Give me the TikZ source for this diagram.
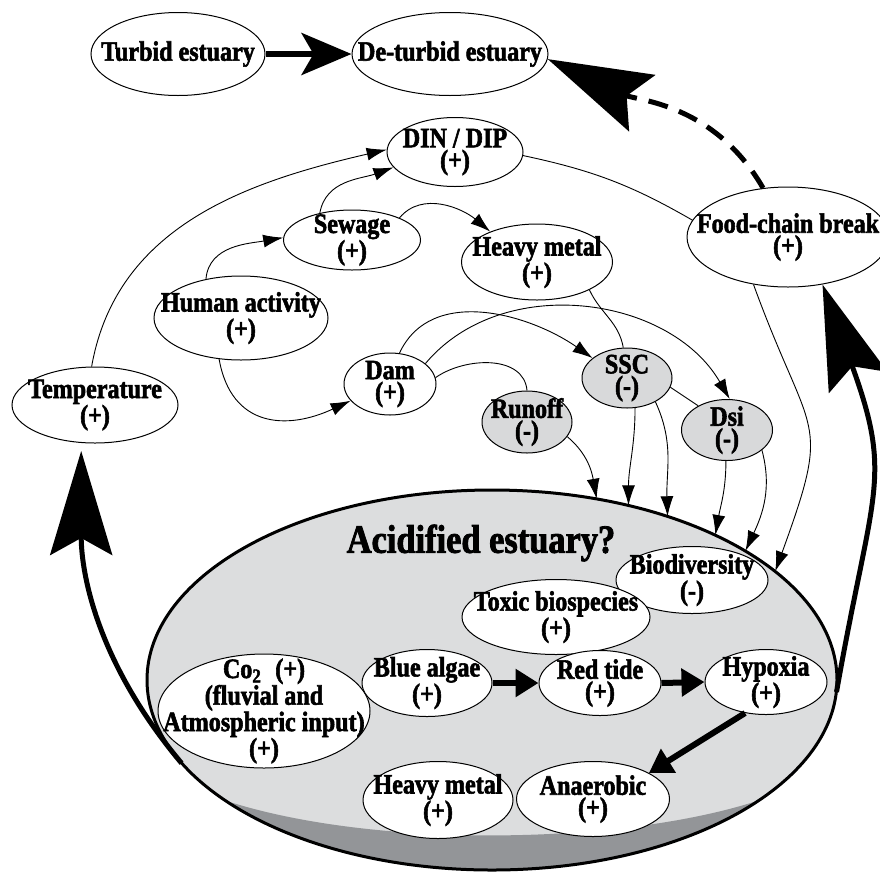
\documentclass[tikz,border=0pt]{standalone}
\usepackage{fontspec}
\setmainfont{Liberation Serif}[FakeStretch=0.86, BoldFeatures={FakeBold=2}]
\usetikzlibrary{arrows.meta,shapes.geometric}

\definecolor{estgray}{HTML}{DCDDDE}
\definecolor{boxgray}{HTML}{D8D9DA}
\definecolor{mudgray}{HTML}{939598}

\newcommand{\nodefont}{\fontsize{28}{22}\selectfont\bfseries}

\tikzset{
  lbl/.style={align=center, font=\nodefont, inner sep=0pt},
  box/.style={ellipse, draw, fill=white, line width=1pt, inner sep=0pt, label={[lbl]center:#1}},
  greybox/.style={box=#1, fill=boxgray},
  link/.style={line width=0.9pt, -{Latex[length=20pt,width=13pt]}},
  tie/.style={line width=0.9pt},
  flow/.style={line width=6pt, -{Triangle[length=23pt,width=27pt]}},
  jump/.style={line width=6pt, -{Stealth[length=50pt,width=42pt,inset=12pt]}},
  feedback/.style={line width=5pt, -{Stealth[length=104pt,width=62pt,inset=17pt]}},
}

\begin{document}
\begin{tikzpicture}[x=1pt,y=1pt]
    \useasboundingbox (0,0) rectangle (880,-873);

    % the estuary itself
    \node[ellipse, fill=estgray, inner sep=0pt, minimum width=690pt, minimum height=380pt] (est) at (492,-680) {};
    \begin{scope}
        \clip (est.center) ellipse [x radius=345pt, y radius=190pt];
        \fill[mudgray] (100,-780) -- (233,-803) .. controls (380,-848) and (620,-845) .. (757,-801)
            -- (900,-760) -- (900,-900) -- (100,-900) -- cycle;
    \end{scope}
    \draw[line width=3pt] (est.center) ellipse [x radius=345pt, y radius=190pt];
    \node[font=\fontsize{40}{40}\selectfont\bfseries] (title) at (481,-543) {Acidified estuary?};

    % top row
    \node[box={Turbid estuary}, minimum width=174pt, minimum height=83pt] (turbid) at (178,-54) {};
    \node[box={De-turbid estuary}, minimum width=196pt, minimum height=83pt] (deturbid) at (450,-54) {};

    % drivers
    \node[box={DIN / DIP\\(+)}, minimum width=136pt, minimum height=69pt] (dindip) at (455,-152) {};
    \node[box={Sewage\\(+)}, minimum width=137pt, minimum height=60pt] (sewage) at (352,-240) {};
    \node[box={Heavy metal\\(+)}, minimum width=151pt, minimum height=76pt] (hmtop) at (537,-262) {};
    \node[box={Food-chain break\\(+)}, minimum width=202pt, minimum height=100pt] (food) at (788,-237) {};
    \node[box={Human activity\\(+)}, minimum width=174pt, minimum height=84pt] (human) at (241,-318) {};
    \node[box={Temperature\\(+)}, minimum width=166pt, minimum height=76pt] (temp) at (95,-405) {};
    \node[box={Dam\\(+)}, minimum width=92pt, minimum height=62pt] (dam) at (390,-384) {};
    \node[greybox={SSC\\(-)}, minimum width=90pt, minimum height=60pt] (ssc) at (627,-378) {};
    \node[greybox={Runoff\\(-)}, minimum width=90pt, minimum height=62pt] (runoff) at (527,-422) {};
    \node[greybox={Dsi\\(-)}, minimum width=91pt, minimum height=61pt] (dsi) at (727,-430) {};

    % inside the estuary
    \node[box={Biodiversity\\(-)}, minimum width=152pt, minimum height=67pt] (bio) at (692,-580) {};
    \node[box={Toxic biospecies\\(+)}, minimum width=188pt, minimum height=75pt] (toxic) at (556,-617) {};
    \node[box={Co\textsubscript{2}\enspace(+)\\(fluvial and\\Atmospheric input)\\(+)},
        minimum width=212pt, minimum height=114pt] (co2) at (264,-711) {};
    \node[box={Blue algae\\(+)}, minimum width=130pt, minimum height=67pt] (blue) at (427,-683) {};
    \node[box={Red tide\\(+)}, minimum width=122pt, minimum height=65pt] (red) at (600,-683) {};
    \node[box={Hypoxia\\(+)}, minimum width=122pt, minimum height=65pt] (hyp) at (766,-682) {};
    \node[box={Heavy metal\\(+)}, minimum width=150pt, minimum height=77pt] (hmbot) at (438,-800) {};
    \node[box={Anaerobic\\(+)}, minimum width=153pt, minimum height=75pt] (anaer) at (593,-799) {};

    % thin links
    \draw[link] (temp.95) to[out=80,in=193] (dindip.178);
    \draw[link] (human.132) to[out=85,in=190] (sewage.178);
    \draw[link] (human.-118) to[out=-80,in=205,looseness=1.3] (dam.-157);
    \draw[link] (sewage.140) to[out=80,in=200] (dindip.194);
    \draw[link] (sewage.25) to[out=50,in=140] (hmtop.147);
    \draw[tie] (dindip.-3) to[out=-12,in=150] (food.170);
    \draw[tie] (hmtop.-28) to[out=-65,in=100] (ssc.97);
    \draw[link] (dam.73) to[out=65,in=145] (ssc.150);
    \draw[link] (dam.30) to[out=50,in=120] (dsi.85);
    \draw[tie] (dam.8) to[out=35,in=95] (runoff.90);
    \draw[tie] (ssc.-12) -- (dsi.140);
    \draw[link] (runoff.-20) to[out=-40,in=100] (est.60);
    \draw[link] (ssc.-75) to[out=-90,in=90] (est.52);
    \draw[link] (ssc.-40) to[out=-65,in=92] (est.43);
    \draw[link] (dsi.-92) to[out=-90,in=80] (est.33);
    \draw[link] (dsi.-30) to[out=-75,in=65] (est.27);
    \draw[link] (food.-126) to[out=-70,in=70,looseness=1.5] (est.21);

    % thick arrows
    \draw[jump] (turbid.east) -- (deturbid.west);
    \draw[flow] (blue.east) -- (red.west);
    \draw[flow] (red.east) -- (hyp.west);
    \draw[flow] (hyp.-124) -- (anaer.25);
    \draw[feedback, dash pattern=on 20pt off 12pt] (food.117) to[out=120,in=-25] (deturbid.-3);
    \draw[feedback, shorten >=8pt] (est.195) to[out=130,in=-90] (temp.250);
    \draw[feedback] (est.-2) to[out=80,in=-70,looseness=1.3] (food.-54);
\end{tikzpicture}
\end{document}
